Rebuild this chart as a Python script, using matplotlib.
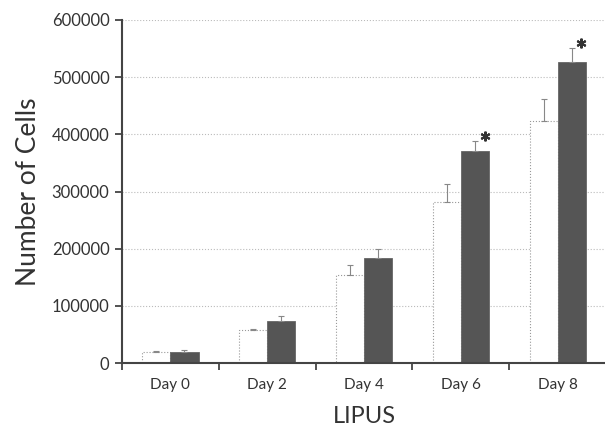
import numpy as np
import matplotlib.pyplot as plt

# --- Dados ---
dias = ['Day 0', 'Day 2', 'Day 4', 'Day 6', 'Day 8']
controle = [20000, 57000, 154000, 281000, 424000]
lipus = [20000, 73000, 183000, 371000, 526000]
erro_controle = [1500, 3000, 17000, 33000, 37000]
erro_lipus = [2000, 9000, 17000, 18000, 25000]
signif = [False, False, False, True, True]

plt.rcParams['font.family'] = ['Lato', 'DejaVu Sans']

fig = plt.figure(figsize=(6.05, 4.29), dpi=100)
ax = fig.add_axes([0.2017, 0.1538, 0.80, 0.7996])

x = np.arange(len(dias))
w = 0.29
cinza = '#555555'

ax.bar(x - w / 2, controle, w, color='white', edgecolor='#999999',
       linewidth=0.8, linestyle=':', zorder=3)
ax.bar(x + w / 2, lipus, w, color=cinza, edgecolor='#666666',
       linewidth=0.6, zorder=3)

ax.errorbar(x - w / 2, controle, yerr=[np.zeros(5), erro_controle], fmt='none',
            ecolor='#888888', elinewidth=0.8, capsize=2, capthick=0.8, zorder=4)
ax.errorbar(x + w / 2, lipus, yerr=[np.zeros(5), erro_lipus], fmt='none',
            ecolor='#888888', elinewidth=0.8, capsize=2, capthick=0.8, zorder=4)

# asteriscos de significancia
for i, s in enumerate(signif):
    if s:
        ax.plot(x[i] + w / 2 + 0.1, lipus[i] + erro_lipus[i] + 8000,
                marker=(6, 2, 0), markersize=7, markeredgewidth=1.5,
                color='#333333', zorder=5, clip_on=False)

ax.set_xlim(-0.5, len(dias) - 0.5)
ax.set_ylim(0, 600000)
ax.set_yticks(np.arange(0, 600001, 100000))
ax.set_xticks(np.arange(-0.5, len(dias), 1.0))
ax.set_xticklabels([])
ax.set_xticks(x, minor=True)
ax.set_xticklabels(dias, minor=True)
ax.tick_params(axis='x', which='minor', length=0, pad=11, labelsize=11, colors='#333333')
ax.tick_params(axis='x', which='major', length=5, width=1.3, color='#444444')
ax.tick_params(axis='y', length=5, width=1.3, color='#444444', labelsize=12,
               labelcolor='#333333', pad=4)

ax.yaxis.grid(True, linestyle=':', color='#bbbbbb', linewidth=0.8, zorder=0)
ax.set_axisbelow(True)

for lado in ['top', 'right']:
    ax.spines[lado].set_visible(False)
for lado in ['left', 'bottom']:
    ax.spines[lado].set_linewidth(1.5)
    ax.spines[lado].set_color('#444444')
    ax.spines[lado].set_zorder(6)

ax.set_ylabel('Number of Cells', fontsize=19, color='#333333', labelpad=8)
ax.set_xlabel('LIPUS', fontsize=17, color='#333333', labelpad=10)

fig.savefig('out.png', dpi=100)
